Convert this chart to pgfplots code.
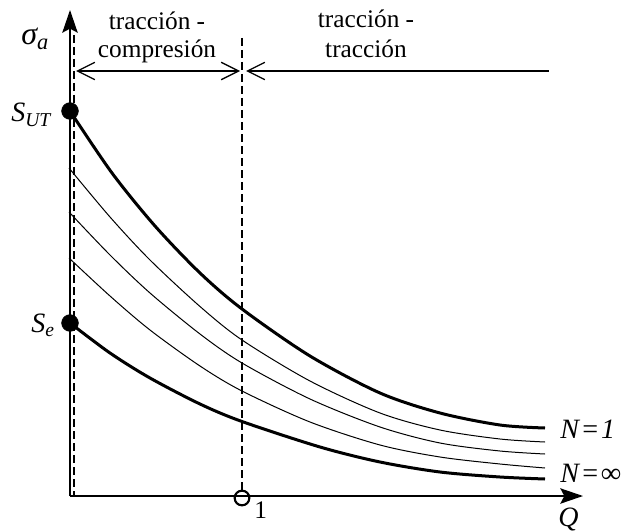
\documentclass[border=0pt]{standalone}
\usepackage{pgfplots}
\pgfplotsset{compat=1.18}
\usepackage{fontspec}
\setmainfont{Liberation Serif}
\usetikzlibrary{arrows.meta}
\newcommand\lbl{\fontsize{19}{22}\selectfont}
\newcommand\blbl{\fontsize{21}{24}\selectfont}
\begin{document}
\begin{tikzpicture}
\begin{axis}[
  scale only axis, width=467.25pt, height=398.25pt,
  xmin=0, xmax=623, ymin=0, ymax=531, y dir=reverse,
  hide axis, clip=false,
]
% axes
\addplot[black, line width=1.5pt, -{Stealth[length=17pt,width=11.5pt,inset=3pt]}] coordinates {(70,496) (70,10)};
\addplot[black, line width=1.5pt, -{Stealth[length=17pt,width=11.5pt,inset=3pt]}] coordinates {(70,496) (583,496)};
% dashed verticals
\addplot[black, line width=0.9pt, dash pattern=on 6pt off 3pt] coordinates {(74,35) (74,496)};
\addplot[black, line width=0.9pt, dash pattern=on 6pt off 3pt] coordinates {(242,38) (242,491)};
% region arrows
\addplot[black, line width=1pt, {Straight Barb[length=13pt,width=13pt]}-{Straight Barb[length=13pt,width=13pt]}] coordinates {(76,71) (240,71)};
\addplot[black, line width=1pt, {Straight Barb[length=13pt,width=13pt]}-] coordinates {(246,71) (549,71)};
% curves
\addplot[black, line width=2.25pt, smooth] coordinates {
 (70,111) (112,173) (155,226) (200,273) (242,309) (310,356) (380,393) (440,413) (500,425) (545,428)};
\addplot[black, line width=0.75pt, smooth] coordinates {
 (69,168) (110,217) (150,260) (200,306.5) (242,340) (310,381) (380,413) (440,430) (500,439) (545,442)};
\addplot[black, line width=0.75pt, smooth] coordinates {
 (69,212) (110,255) (150,293) (200,334) (242,363) (310,399) (380,427) (440,443) (500,451) (545,454)};
\addplot[black, line width=0.75pt, smooth] coordinates {
 (69,258) (110,296) (150,330) (200,366) (242,391) (310,422) (380,445) (440,457) (500,464) (545,468)};
\addplot[black, line width=2.25pt, smooth] coordinates {
 (70,323) (110,353) (150,378) (200,404) (242,421.5) (320,447) (380,462) (440,472) (500,477) (545,479)};
% points
\addplot[only marks, mark=*, mark size=6.3pt, black] coordinates {(70,111) (70,323)};
\addplot[only marks, mark=o, mark size=5.5pt, black, mark options={line width=1.6pt, fill=white}] coordinates {(242,498)};
% labels
\node[anchor=base] at (axis cs:157,30) {\lbl tracción -};
\node[anchor=base] at (axis cs:157,58) {\lbl compresión};
\node[anchor=base] at (axis cs:366,28) {\lbl tracción -};
\node[anchor=base] at (axis cs:366,58) {\lbl tracción};
\node[anchor=base west, inner sep=0pt] at (axis cs:21,45) {\fontsize{24}{26}\selectfont\itshape σ\textsubscript{a}};
\node[anchor=base west, inner sep=0pt] at (axis cs:11,122) {\blbl\itshape S\textsubscript{UT}};
\node[anchor=base west, inner sep=0pt] at (axis cs:31,332) {\blbl\itshape S\textsubscript{e}};
\node[anchor=base west, inner sep=0pt] at (axis cs:560,438) {\blbl\itshape N\hspace{0.06em}=\hspace{0.06em}1};
\node[anchor=base west, inner sep=0pt] at (axis cs:560,482) {\blbl\itshape N\hspace{0.06em}=\hspace{0.06em}∞};
\node[anchor=base west, inner sep=0pt] at (axis cs:254,518) {\lbl 1};
\node[anchor=north west, inner sep=0pt] at (axis cs:558,508) {\blbl\itshape Q};
\end{axis}
\pgfresetboundingbox
\path (0,0) rectangle (467.25pt,398.25pt);
\end{tikzpicture}
\end{document}
